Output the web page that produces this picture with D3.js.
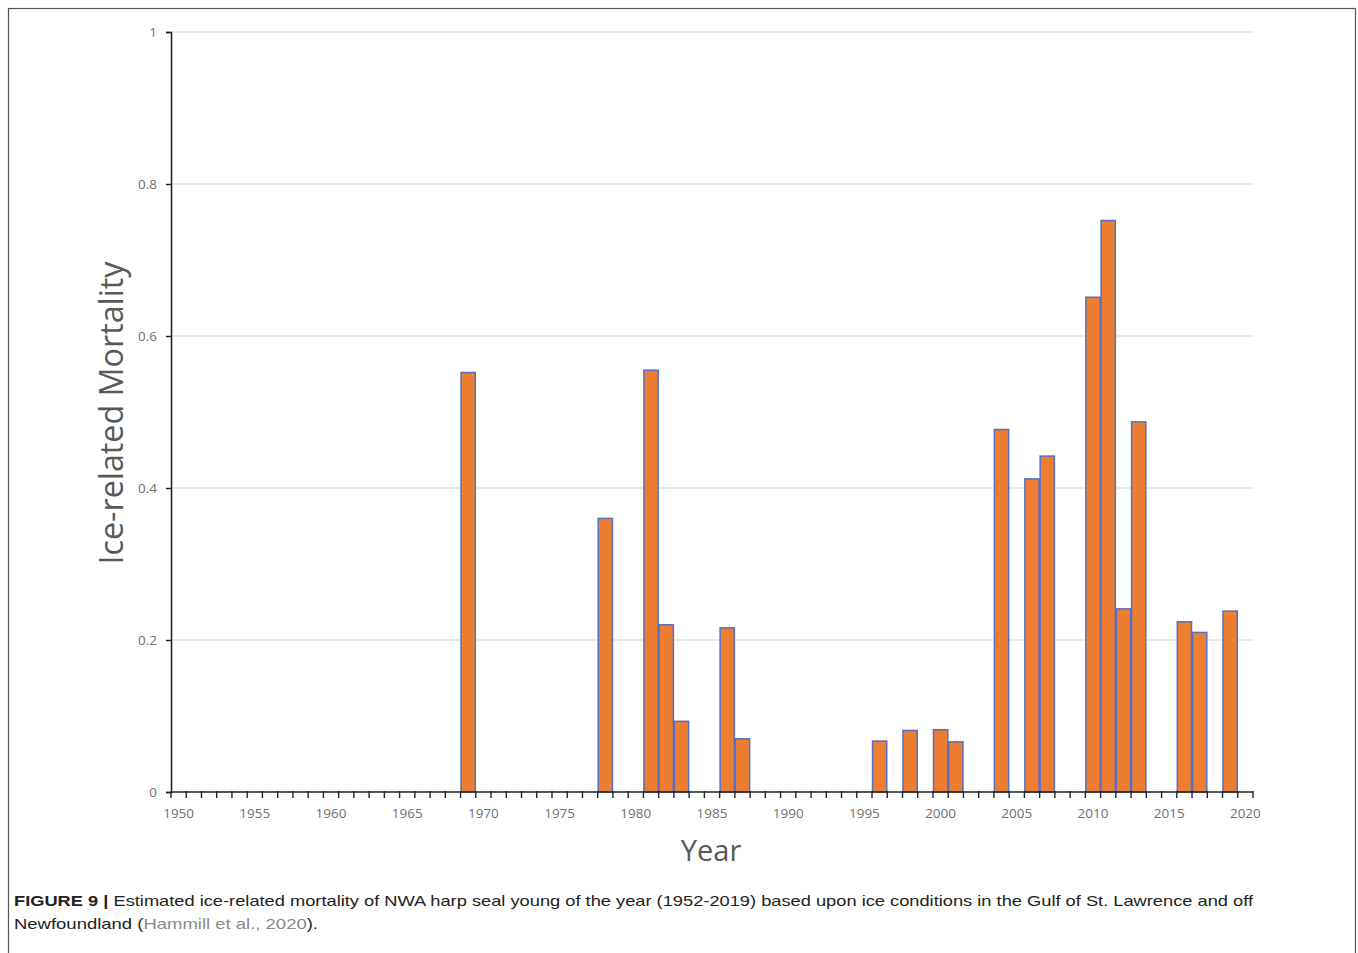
<!DOCTYPE html>
<html><head><meta charset="utf-8">
<script src="https://cdn.jsdelivr.net/npm/d3@7"></script>
<style>body{margin:0;background:#fff}</style>
</head><body>
<script>
const years = d3.range(1950, 2021);
const barYears = [1969,1978,1981,1982,1983,1986,1987,1996,1998,2000,2001,2004,2006,2007,2010,2011,2012,2013,2016,2017,2019];
const barValues = [0.552,0.360,0.555,0.220,0.093,0.216,0.070,0.067,0.081,0.082,0.066,0.477,0.412,0.442,0.651,0.752,0.241,0.487,0.224,0.210,0.238];
const yTicks = [0,0.2,0.4,0.6,0.8,1];
const xLabelYears = [1950,1955,1960,1965,1970,1975,1980,1985,1990,1995,2000,2005,2010,2015,2020];

(function(){
const W=1358,H=953;
const svg=d3.select("body").append("svg").attr("width",W).attr("height",H);
svg.append("rect").attr("x",8.5).attr("y",8.5).attr("width",1347).attr("height",960)
  .attr("fill","none").attr("stroke","#555").attr("stroke-width",1.2);

const pL=171,pR=1253,pT=32,pB=792;
const x=d3.scaleBand().domain(years).range([pL,pR]).padding(0);
const y=d3.scaleLinear().domain([0,1]).range([pB,pT]);

// gridlines
svg.append("g").selectAll("line").data(yTicks.filter(d=>d>0)).join("line")
  .attr("x1",pL).attr("x2",pR).attr("y1",d=>y(d)).attr("y2",d=>y(d))
  .attr("stroke","#e3e3e3").attr("stroke-width",1.3);

// bars
svg.append("g").selectAll("rect").data(barYears.map((yr,i)=>({yr,v:barValues[i]}))).join("rect")
  .attr("x",d=>x(d.yr)+0.5).attr("width",x.bandwidth()-1)
  .attr("y",d=>y(d.v)).attr("height",d=>y(0)-y(d.v))
  .attr("fill","#ED7D31").attr("stroke","#5470C4").attr("stroke-width",1.5);

// y axis
const yAxis=d3.axisLeft(y).tickValues(yTicks).tickFormat(d=>d===0?"0":d===1?"1":d3.format(".1f")(d)).tickSize(5).tickPadding(9);
const gy=svg.append("g").attr("transform",`translate(${pL},0)`).call(yAxis);
gy.select(".domain").attr("stroke","#222").attr("stroke-width",1.6);
gy.selectAll(".tick line").attr("stroke","#222").attr("stroke-width",1.4);
gy.selectAll("text").attr("font-family","Open Sans, sans-serif").attr("font-size",13.5).attr("fill","#707070");

// x axis with category boundary ticks
const gx=svg.append("g");
gx.append("line").attr("x1",pL).attr("x2",pR).attr("y1",pB).attr("y2",pB)
  .attr("stroke","#222").attr("stroke-width",1.6);
gx.selectAll("line.tk").data(years.concat([null])).join("line").attr("class","tk")
  .attr("x1",(d,i)=>pL+i*x.step()).attr("x2",(d,i)=>pL+i*x.step())
  .attr("y1",pB-1).attr("y2",pB+6).attr("stroke","#222").attr("stroke-width",1.4);
gx.selectAll("text").data(xLabelYears).join("text")
  .attr("x",d=>x(d)+x.bandwidth()/2).attr("y",pB+26).attr("text-anchor","middle")
  .attr("font-family","Open Sans, sans-serif").attr("font-size",13.5).attr("fill","#707070").text(d=>d);

// titles
svg.append("text").attr("transform","translate(123,413) rotate(-90)").attr("text-anchor","middle")
  .attr("font-family","Open Sans, sans-serif").attr("font-size",32).attr("fill","#595959")
  .attr("textLength",303).attr("lengthAdjust","spacingAndGlyphs")
  .text("Ice-related Mortality");
svg.append("text").attr("x",711).attr("y",861).attr("text-anchor","middle")
  .attr("font-family","Open Sans, sans-serif").attr("font-size",29).attr("fill","#595959")
  .text("Year");

// caption
const c1=svg.append("text").attr("x",14).attr("y",906).attr("font-family","Liberation Sans, Arial, sans-serif")
  .attr("font-size",14.5).attr("fill","#222").attr("textLength",1239).attr("lengthAdjust","spacingAndGlyphs");
c1.append("tspan").attr("font-weight","bold").text("FIGURE 9 | ");
c1.append("tspan").text("Estimated ice-related mortality of NWA harp seal young of the year (1952-2019) based upon ice conditions in the Gulf of St. Lawrence and off");
const c2=svg.append("text").attr("x",14).attr("y",929).attr("font-family","Liberation Sans, Arial, sans-serif")
  .attr("font-size",14.5).attr("fill","#222").attr("textLength",304).attr("lengthAdjust","spacingAndGlyphs");
c2.append("tspan").text("Newfoundland (");
c2.append("tspan").attr("fill","#8a8a8a").text("Hammill et al., 2020");
c2.append("tspan").text(").");
})();
</script>
</body></html>
